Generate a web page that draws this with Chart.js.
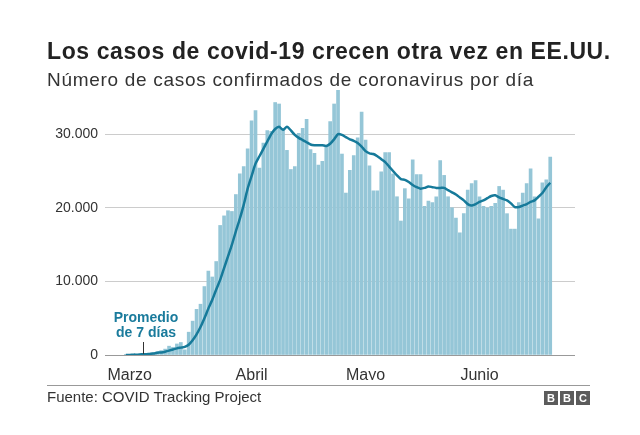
<!DOCTYPE html>
<html>
<head>
<meta charset="utf-8">
<script src="https://cdn.jsdelivr.net/npm/chart.js@4"></script>
<style>
  body { margin: 0; background: #fff; font-family: "Liberation Sans", Arial, sans-serif; }
  #wrap { position: relative; width: 640px; height: 435px; overflow: hidden; }
  #grafico { position: absolute; left: 0; top: 0; }
  .titulo { position: absolute; left: 47px; top: 40px; font-size: 23px; line-height: 23px; letter-spacing: 0.6px; font-weight: bold; color: #222; white-space: nowrap; }
  .subtitulo { position: absolute; left: 47px; top: 70px; font-size: 19px; line-height: 19px; letter-spacing: 0.7px; color: #333; white-space: nowrap; }
  .nota { position: absolute; left: 106px; top: 310px; width: 80px; text-align: center; font-size: 14px; line-height: 15px; font-weight: bold; color: #1a7b9c; }
  .puntero { position: absolute; left: 143px; top: 342px; width: 1px; height: 12px; background: #333; }
  .pie { position: absolute; left: 47px; top: 385px; width: 543px; border-top: 1px solid #999; }
  .fuente { position: absolute; left: 47px; top: 389px; font-size: 15px; line-height: 16px; color: #333; }
  .bbc { position: absolute; left: 544px; top: 391px; display: flex; gap: 2px; }
  .bbc span { width: 14px; height: 14px; background: #5b5b5b; color: #fff; font-weight: bold; font-size: 11px; line-height: 14px; text-align: center; }
</style>
</head>
<body>
<div id="wrap">
  <canvas id="grafico" width="640" height="435"></canvas>
  <div class="titulo">Los casos de covid-19 crecen otra vez en EE.UU.</div>
  <div class="subtitulo">Número de casos confirmados de coronavirus por día</div>
  <div class="nota">Promedio<br>de 7 días</div>
  <div class="puntero"></div>
  <div class="pie"></div>
  <div class="fuente">Fuente: COVID Tracking Project</div>
  <div class="bbc"><span>B</span><span>B</span><span>C</span></div>
</div>
<script>
// casos diarios (desde el 29 de febrero)
var casos = [
  20, 30, 50, 70, 100, 150, 200, 300, 460, 600,
  800, 1200, 1050, 1500, 1700, 700, 3100, 4600, 6200, 6900,
  9300, 11400, 10600, 12700, 17600, 18900, 19600, 19500, 21800, 24600,
  25600, 28000, 31800, 33200, 25400, 28800, 30500, 30400, 34300, 34100,
  30600, 27800, 25200, 25600, 30100, 30800, 32000, 27900, 27400, 25800,
  26300, 28300, 31700, 34100, 36000, 27300, 22000, 25100, 27100, 29500,
  33000, 29200, 25700, 22300, 22300, 24900, 27500, 27500, 24600, 21500,
  18200, 22600, 21200, 26500, 24500, 24500, 20200, 20900, 20700, 21500,
  26400, 24400, 21500, 20000, 18600, 16600, 19200, 22400, 23300, 23700,
  21500, 20200, 20000, 20200, 20600, 22900, 22400, 19200, 17100, 17100,
  20700, 22000, 23300, 25300, 21500, 18500, 23400, 23800, 26900
];
var promedio = [
  0, 0, 50, 50, 100, 100, 150, 200, 300, 350,
  450, 600, 750, 900, 1000, 1100, 1400, 2000, 2800, 3800,
  5000, 6300, 7500, 8900, 10200, 11800, 13400, 15000, 16800, 18500,
  20400, 22600, 24300, 26000, 27000, 28000, 29000, 30000, 30700, 31000,
  30600, 31000, 30500, 29900, 29500, 29200, 28900, 28600, 28500, 28500,
  28500, 28400, 28700, 29300, 30000, 29900, 29600, 29300, 29100, 28800,
  28300, 27700, 27400, 27300, 27000, 26600, 26200, 25600, 25000, 24400,
  23900, 23800, 23500, 23100, 22800, 22600, 22700, 22900, 22800, 22700,
  22700, 22700, 22400, 22100, 21800, 21400, 21000, 20500, 20300, 20500,
  20800, 21000, 21300, 21600, 21700, 21400, 21200, 21000, 20600, 20100,
  20100, 20300, 20500, 20800, 21000, 21500, 22000, 22800, 23400
];
var yTicks = [0, 10000, 20000, 30000];
var meses = ['Marzo', 'Abril', 'Mayo', 'Junio'];
var diasMes = [1, 32, 61, 90];

function miles(v) {
  return v.toString().replace(/\B(?=(\d{3})+(?!\d))/g, '.');
}

var fuente = { family: '"Liberation Sans", Arial, sans-serif', size: 14 };

new Chart(document.getElementById('grafico').getContext('2d'), {
  type: 'bar',
  data: {
    datasets: [{
      type: 'line',
      data: promedio.map(function (v, i) { return { x: i, y: v }; }),
      borderColor: '#167a9a',
      borderWidth: 2.5,
      pointRadius: 0,
      tension: 0.25,
      order: 0
    }, {
      type: 'bar',
      data: casos.map(function (v, i) { return { x: i, y: v }; }),
      backgroundColor: '#95c6d7',
      barThickness: 3,
      order: 1
    }]
  },
  options: {
    responsive: false,
    animation: false,
    events: [],
    layout: { padding: { top: 90, right: 65, bottom: 55, left: 0 } },
    plugins: { legend: { display: false }, tooltip: { enabled: false } },
    scales: {
      x: {
        type: 'linear',
        offset: false,
        min: -5.3,
        max: 114.3,
        afterFit: function (s) { s.height = 25; },
        afterBuildTicks: function (s) {
          s.ticks = diasMes.map(function (d) { return { value: d }; });
        },
        ticks: {
          autoSkip: false,
          maxRotation: 0,
          padding: 3,
          color: '#333',
          font: { family: fuente.family, size: 16 },
          callback: function (v) { return meses[diasMes.indexOf(v)]; }
        },
        grid: { display: false, offset: false },
        border: { display: false }
      },
      y: {
        min: 0,
        max: 36000,
        afterFit: function (s) { s.width = 105; },
        afterBuildTicks: function (s) {
          s.ticks = yTicks.map(function (v) { return { value: v }; });
        },
        ticks: {
          padding: 7,
          color: '#333',
          font: fuente,
          callback: function (v) { return miles(v); }
        },
        grid: {
          drawTicks: false,
          color: function (c) { return c.tick && c.tick.value === 0 ? '#999' : '#cccccc'; }
        },
        border: { display: false }
      }
    }
  }
});
</script>
</body>
</html>
